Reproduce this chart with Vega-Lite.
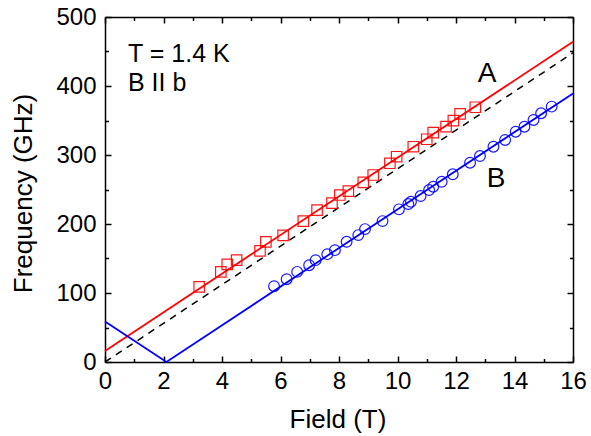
{
  "$schema": "https://vega.github.io/schema/vega-lite/v6.json",
  "width": 468,
  "height": 345,
  "autosize": "none",
  "padding": {"left": 105, "top": 17, "right": 18, "bottom": 74},
  "background": "white",
  "config": {
    "view": {"stroke": null},
    "font": "Liberation Sans",
    "axis": {
      "grid": false,
      "domainColor": "black",
      "domainWidth": 1.5,
      "tickColor": "black",
      "tickWidth": 1.5,
      "labelColor": "black",
      "labelFont": "Liberation Sans",
      "labelFontSize": 24,
      "labelFlush": false,
      "labelOverlap": false,
      "titleFont": "Liberation Sans",
      "titleFontSize": 26,
      "titleFontWeight": "normal",
      "titleColor": "black"
    }
  },
  "datasets": {
    "red": [{"B": 0, "f": 16}, {"B": 16, "f": 464}],
    "dash": [{"B": 0, "f": 0}, {"B": 16, "f": 448}],
    "blue": [{"B": 0, "f": 58.8}, {"B": 2.1, "f": 0}, {"B": 16, "f": 389.2}],
    "A": [
      {"B": 3.22, "f": 108.9}, {"B": 3.96, "f": 130.6}, {"B": 4.18, "f": 141.4}, {"B": 4.5, "f": 147.6},
      {"B": 5.3, "f": 161.1}, {"B": 5.5, "f": 174.2}, {"B": 6.09, "f": 183.5}, {"B": 6.78, "f": 204.2},
      {"B": 7.25, "f": 220.2}, {"B": 7.76, "f": 230.3}, {"B": 8.03, "f": 242}, {"B": 8.32, "f": 247.7},
      {"B": 8.83, "f": 260.4}, {"B": 9.17, "f": 271}, {"B": 9.74, "f": 288}, {"B": 9.97, "f": 297.5},
      {"B": 10.54, "f": 312}, {"B": 11.0, "f": 322.8}, {"B": 11.22, "f": 332.4}, {"B": 11.66, "f": 341},
      {"B": 11.91, "f": 349.8}, {"B": 12.14, "f": 359.5}, {"B": 12.66, "f": 369.2}
    ],
    "Bpts": [
      {"B": 5.78, "f": 109.9}, {"B": 6.21, "f": 120}, {"B": 6.57, "f": 130.6}, {"B": 6.98, "f": 140.3},
      {"B": 7.2, "f": 147.6}, {"B": 7.6, "f": 156.3}, {"B": 7.86, "f": 162.1}, {"B": 8.26, "f": 174.2},
      {"B": 8.66, "f": 183.9}, {"B": 8.89, "f": 192.6}, {"B": 9.49, "f": 204.2}, {"B": 10.05, "f": 221.2},
      {"B": 10.37, "f": 228.9}, {"B": 10.46, "f": 232.2}, {"B": 10.79, "f": 240.5}, {"B": 11.08, "f": 249.2},
      {"B": 11.22, "f": 254}, {"B": 11.51, "f": 261.2}, {"B": 11.89, "f": 272}, {"B": 12.48, "f": 288.8},
      {"B": 12.82, "f": 298.5}, {"B": 13.28, "f": 312}, {"B": 13.68, "f": 321.8}, {"B": 14.04, "f": 333.8},
      {"B": 14.34, "f": 341}, {"B": 14.65, "f": 350.8}, {"B": 14.91, "f": 360.5}, {"B": 15.27, "f": 370.1}
    ],
    "txt": [
      {"B": 0.786, "f": 435.4, "t": "T = 1.4 K"},
      {"B": 0.786, "f": 393.3, "t": "B II b"}
    ],
    "txt2": [
      {"B": 13.06, "f": 405.5, "t": "A"},
      {"B": 13.37, "f": 254, "t": "B"}
    ]
  },
  "resolve": {"axis": {"x": "independent", "y": "independent"}},
  "layer": [
    {
      "data": {"name": "red"},
      "mark": {"type": "line", "color": "#ff0000", "strokeWidth": 1.8},
      "encoding": {
        "x": {"field": "B", "type": "quantitative", "scale": {"domain": [0, 16], "nice": false, "zero": false},
              "axis": {"orient": "bottom", "values": [0, 2, 4, 6, 8, 10, 12, 14, 16], "tickSize": -6, "labelPadding": 13,
                       "title": "Field (T)", "titleBaseline": "alphabetic", "titleY": 65, "titleX": 232.5, "titleAnchor": "middle"}},
        "y": {"field": "f", "type": "quantitative", "scale": {"domain": [0, 500], "nice": false, "zero": false},
              "axis": {"orient": "left", "values": [0, 100, 200, 300, 400, 500], "tickSize": -6, "labelPadding": 15,
                       "title": "Frequency (GHz)", "titleAngle": 270, "titleBaseline": "alphabetic", "titleX": -73.3, "titleY": 176, "titleAlign": "center"}}
      }
    },
    {
      "data": {"name": "dash"},
      "mark": {"type": "line", "color": "black", "strokeWidth": 1.5, "strokeDash": [7, 6]},
      "encoding": {
        "x": {"field": "B", "type": "quantitative",
              "axis": {"orient": "bottom", "values": [1, 3, 5, 7, 9, 11, 13, 15], "tickSize": -3.5, "labels": false, "domain": false, "title": null}},
        "y": {"field": "f", "type": "quantitative",
              "axis": {"orient": "left", "values": [50, 150, 250, 350, 450], "tickSize": -3.5, "labels": false, "domain": false, "title": null}}
      }
    },
    {
      "data": {"name": "blue"},
      "mark": {"type": "line", "color": "#0000ff", "strokeWidth": 1.8},
      "encoding": {
        "x": {"field": "B", "type": "quantitative",
              "axis": {"orient": "top", "values": [0, 2, 4, 6, 8, 10, 12, 14, 16], "tickSize": -6, "labels": false, "title": null}},
        "y": {"field": "f", "type": "quantitative",
              "axis": {"orient": "right", "values": [0, 100, 200, 300, 400, 500], "tickSize": -6, "labels": false, "title": null}}
      }
    },
    {
      "data": {"name": "A"},
      "mark": {"type": "point", "shape": "square", "filled": false, "color": "#ff0000", "size": 110, "strokeWidth": 1.2, "opacity": 0.9},
      "encoding": {
        "x": {"field": "B", "type": "quantitative",
              "axis": {"orient": "top", "values": [1, 3, 5, 7, 9, 11, 13, 15], "tickSize": -3.5, "labels": false, "domain": false, "title": null}},
        "y": {"field": "f", "type": "quantitative",
              "axis": {"orient": "right", "values": [50, 150, 250, 350, 450], "tickSize": -3.5, "labels": false, "domain": false, "title": null}}
      }
    },
    {
      "data": {"name": "Bpts"},
      "mark": {"type": "point", "shape": "circle", "filled": false, "color": "#0000ff", "size": 115, "strokeWidth": 1.2, "opacity": 0.9},
      "encoding": {
        "x": {"field": "B", "type": "quantitative", "axis": null},
        "y": {"field": "f", "type": "quantitative", "axis": null}
      }
    },
    {
      "data": {"name": "txt"},
      "mark": {"type": "text", "align": "left", "baseline": "alphabetic", "fontSize": 25, "color": "black", "font": "Liberation Sans"},
      "encoding": {
        "x": {"field": "B", "type": "quantitative", "axis": null},
        "y": {"field": "f", "type": "quantitative", "axis": null},
        "text": {"field": "t"}
      }
    },
    {
      "data": {"name": "txt2"},
      "mark": {"type": "text", "align": "center", "baseline": "alphabetic", "fontSize": 28, "color": "black", "font": "Liberation Sans"},
      "encoding": {
        "x": {"field": "B", "type": "quantitative", "axis": null},
        "y": {"field": "f", "type": "quantitative", "axis": null},
        "text": {"field": "t"}
      }
    }
  ]
}
